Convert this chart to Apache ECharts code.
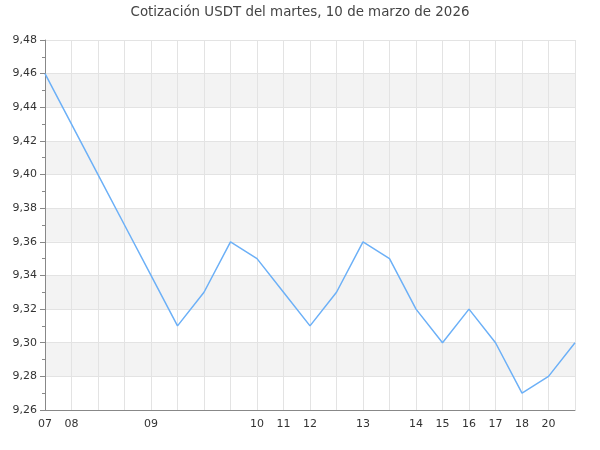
<!DOCTYPE html>
<html>
<head>
<meta charset="utf-8">
<script src="https://cdn.jsdelivr.net/npm/echarts@6/dist/echarts.min.js"></script>
<style>
  html, body { margin: 0; padding: 0; background: #fff; }
  #chart { width: 600px; height: 450px; }
</style>
</head>
<body>
<div id="chart"></div>
<script>
// etiquetas de hora (solo se muestra cuando cambia la hora)
const hours = ['07', '08', '', '', '09', '', '', '', '10', '11', '12', '', '13', '', '14', '15', '16', '17', '18', '20', '']
// cotización USDT
const prices = [9.46, 9.43, 9.40, 9.37, 9.34, 9.31, 9.33, 9.36, 9.35, 9.33, 9.31, 9.33, 9.36, 9.35, 9.32, 9.30, 9.32, 9.30, 9.27, 9.28, 9.30]
const yMin = 9.26
const yMax = 9.48
const yStep = 0.02

const myChart = echarts.init(document.getElementById('chart'))

const option = {
  backgroundColor: '#fff',
  animation: false,
  textStyle: { fontFamily: 'DejaVu Sans' },
  title: {
    text: 'Cotización USDT del martes, 10 de marzo de 2026',
    left: 'center',
    top: 1,
    textStyle: {
      fontFamily: 'DejaVu Sans',
      fontSize: 13.4,
      fontWeight: 'normal',
      color: '#444',
    },
  },
  grid: {
    left: 45,
    right: 25,
    top: 40,
    bottom: 40,
  },
  xAxis: {
    type: 'category',
    boundaryGap: false,
    data: hours,
    axisLine: { lineStyle: { color: '#888' } },
    axisTick: { show: false },
    axisLabel: {
      interval: 0,
      color: '#333',
      fontSize: 11,
      margin: 9,
    },
    splitLine: {
      show: true,
      interval: 0,
      lineStyle: { color: '#e3e3e3' },
    },
  },
  yAxis: {
    type: 'value',
    min: yMin,
    max: yMax,
    interval: yStep,
    axisLine: { show: true, lineStyle: { color: '#888' } },
    axisTick: { show: true, length: 5, lineStyle: { color: '#888' } },
    minorTick: { show: true, splitNumber: 2, length: 3, lineStyle: { color: '#888' } },
    axisLabel: {
      color: '#333',
      fontSize: 11,
      margin: 8,
      formatter: (v) => v.toFixed(2).replace('.', ','),
    },
    splitLine: { lineStyle: { color: '#e3e3e3' } },
    splitArea: {
      show: true,
      areaStyle: { color: ['rgba(255,255,255,0)', '#f3f3f3'] },
    },
  },
  series: [
    {
      type: 'line',
      data: prices,
      symbol: 'none',
      lineStyle: { color: '#6cb0f7', width: 1.5 },
    },
  ],
}

myChart.setOption(option)
</script>
</body>
</html>
